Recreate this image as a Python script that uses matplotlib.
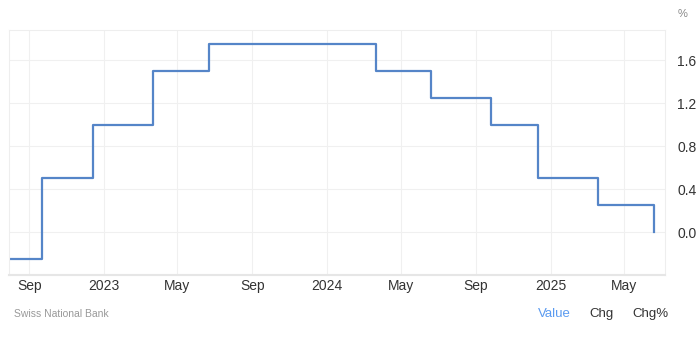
import matplotlib
matplotlib.use("Agg")
import matplotlib.pyplot as plt
import pandas as pd

# SNB policy rate decisions (step chart)
change_dates = ["2022-07-30", "2022-09-22", "2022-12-15", "2023-03-23", "2023-06-22",
	"2024-03-21", "2024-06-20", "2024-09-26", "2024-12-12", "2025-03-20", "2025-06-19"]
rates = [-0.25, 0.50, 1.00, 1.50, 1.75, 1.50, 1.25, 1.00, 0.50, 0.25, 0.00]

tick_dates = ["2022-09-01", "2023-01-01", "2023-05-01", "2023-09-01", "2024-01-01",
	"2024-05-01", "2024-09-01", "2025-01-01", "2025-05-01"]
tick_labels = ["Sep", "2023", "May", "Sep", "2024", "May", "Sep", "2025", "May"]
y_ticks = [0.0, 0.4, 0.8, 1.2, 1.6]

plt.rcParams["font.family"] = ["Liberation Sans", "DejaVu Sans"]

dates = pd.to_datetime(change_dates)

fig = plt.figure(figsize=(7, 3.43), dpi=100)
ax = fig.add_axes([0.0129, 0.198, 0.9371, 0.7145])

ax.step(dates, rates, where="post", color="#5585c8", linewidth=1.6)

ax.set_xlim(pd.Timestamp("2022-07-30"), pd.Timestamp("2025-07-07"))
ax.set_ylim(-0.40, 1.88)

ax.set_xticks(pd.to_datetime(tick_dates))
ax.set_xticklabels(tick_labels)
ax.set_yticks(y_ticks)
ax.set_yticklabels(["{:.1f}".format(v) for v in y_ticks])
ax.yaxis.tick_right()

ax.tick_params(axis="both", length=0, labelsize=10, colors="#333333")
ax.tick_params(axis="x", pad=3)
ax.tick_params(axis="y", pad=9)

ax.grid(True, color="#f0f0f0", linewidth=0.8)
ax.set_axisbelow(True)
for side in ["top", "bottom", "left", "right"]:
	ax.spines[side].set_color("#eeeeee")
	ax.spines[side].set_linewidth(0.8)
ax.spines["bottom"].set_color("#e6e6e6")
ax.spines["bottom"].set_linewidth(1.5)

fig.text(683 / 700, 1 - 14 / 343, "%", fontsize=8, color="#888888", ha="center", va="center")
fig.text(14 / 700, 1 - 314 / 343, "Swiss National Bank", fontsize=7.5, color="#999999",
	ha="left", va="center")
fig.text(554 / 700, 1 - 314 / 343, "Value", fontsize=9.5, color="#5b9bf0", ha="center", va="center")
fig.text(602 / 700, 1 - 314 / 343, "Chg", fontsize=9.5, color="#333333", ha="center", va="center")
fig.text(650 / 700, 1 - 314 / 343, "Chg%", fontsize=9.5, color="#333333", ha="center", va="center")

fig.savefig("out.png", dpi=100)
